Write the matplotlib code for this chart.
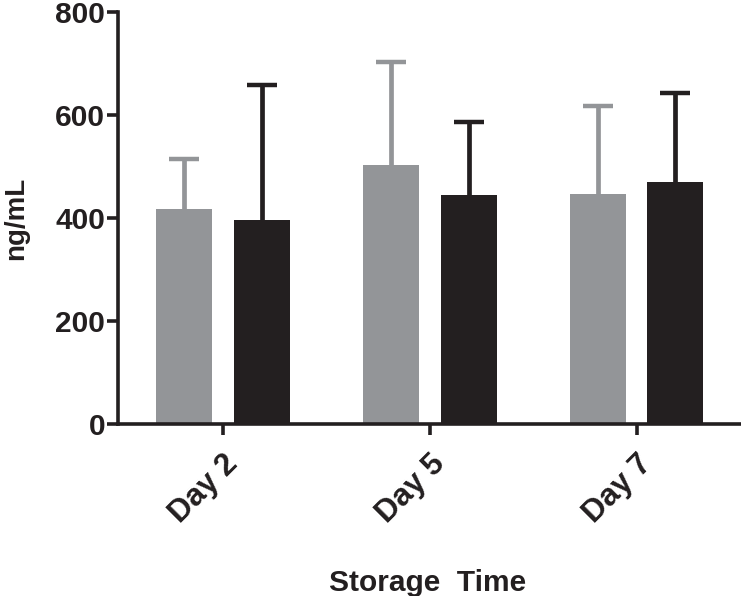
import matplotlib.pyplot as plt
import matplotlib.transforms as mtransforms
import numpy as np

plt.rcParams['font.family'] = ['Liberation Sans', 'DejaVu Sans']
plt.rcParams['font.weight'] = 'bold'

days = ['Day 2', 'Day 5', 'Day 7']
gray_mean = [417, 503, 446]
gray_sd = [98, 200, 172]
black_mean = [397, 445, 469]
black_sd = [261, 141, 173]

gray_col = '#939598'
black_col = '#231f20'

fig = plt.figure(figsize=(7.41, 5.96), dpi=100)
ax = fig.add_axes([0.159, 0.2886, 0.845, 0.6914])

x = np.arange(len(days))
w = 0.27
off = 0.188

for pos, mean, sd, col in [(x - off, gray_mean, gray_sd, gray_col),
                           (x + off, black_mean, black_sd, black_col)]:
    top = np.array(mean) + np.array(sd)
    ax.bar(pos, mean, w, color=col, zorder=2)
    ax.vlines(pos, mean, top, color=col, linewidth=3.4, zorder=1)
    ax.plot(pos, top, ls='none', marker='_', markersize=21, markeredgewidth=3.2,
            color=col, zorder=1)

ax.set_xlim(-0.51, 2.52)
ax.set_ylim(0, 800)
ax.set_yticks([0, 200, 400, 600, 800])
ax.set_xticks(x)
ax.set_xticklabels(days, rotation=45, ha='right', rotation_mode='anchor')
shift = mtransforms.ScaledTranslation(-0.09, -0.06, fig.dpi_scale_trans)
for lab in ax.get_xticklabels():
    lab.set_transform(lab.get_transform() + shift)
    lab.set_fontsize(22.5)

for s in ['top', 'right']:
    ax.spines[s].set_visible(False)
for s in ['left', 'bottom']:
    ax.spines[s].set_linewidth(2.6)
    ax.spines[s].set_color(black_col)
ax.tick_params(axis='both', width=2.6, length=8, color=black_col,
               labelcolor=black_col)
ax.tick_params(axis='y', labelsize=21.5, pad=1)
ax.tick_params(axis='x', pad=10)

ax.set_ylabel('ng/mL', fontsize=20, fontweight='bold', color=black_col)
ax.yaxis.set_label_coords(-0.142, 0.5)
ax.set_xlabel('Storage  Time', fontsize=21.5, fontweight='bold', color=black_col)
ax.xaxis.set_label_coords(0.494, -0.351)

fig.savefig('out.png', dpi=100)
